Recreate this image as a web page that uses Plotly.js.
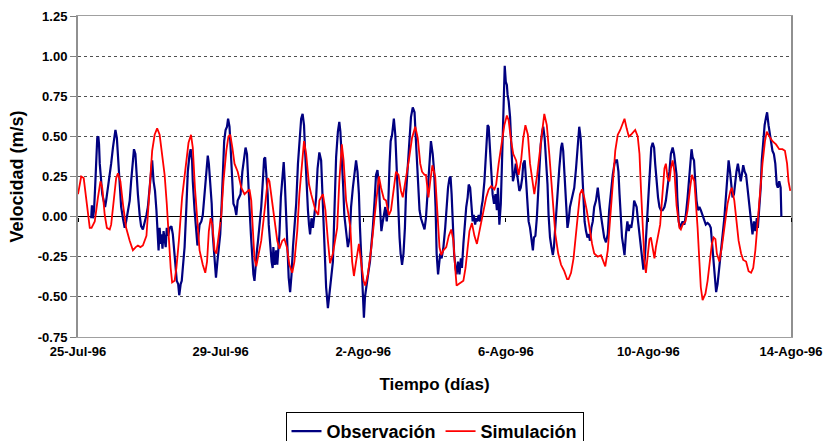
<!DOCTYPE html>
<html>
<head>
<meta charset="utf-8">
<script src="https://cdn.plot.ly/plotly-3.0.1.min.js"></script>
<style>html,body{margin:0;padding:0;background:#fff;}#chart{width:823px;height:441px;}</style>
</head>
<body>
<div id="chart"></div>
<script>
// Time in days since 25-Jul-1996 00:00
const obsDays = [0.37,0.39,0.42,0.45,0.48,0.51,0.54,0.57,0.59,0.61,0.64,0.68,0.72,0.76,0.79,0.84,0.89,0.93,0.98,1.03,1.05,1.09,1.13,1.17,1.21,1.26,1.31,1.35,1.40,1.45,1.49,1.54,1.57,1.61,1.63,1.68,1.73,1.77,1.82,1.87,1.92,1.96,2.01,2.06,2.08,2.12,2.16,2.20,2.23,2.26,2.29,2.32,2.34,2.37,2.40,2.43,2.46,2.49,2.53,2.57,2.62,2.66,2.70,2.74,2.77,2.81,2.84,2.88,2.91,2.94,2.99,3.04,3.08,3.13,3.16,3.20,3.22,3.27,3.32,3.35,3.41,3.46,3.50,3.55,3.60,3.64,3.67,3.71,3.75,3.78,3.83,3.87,3.91,3.95,3.99,4.03,4.06,4.10,4.14,4.18,4.21,4.25,4.29,4.33,4.36,4.40,4.44,4.48,4.51,4.56,4.61,4.65,4.70,4.74,4.77,4.81,4.85,4.89,4.92,4.95,4.98,5.02,5.05,5.09,5.14,5.19,5.22,5.25,5.28,5.32,5.35,5.39,5.43,5.46,5.48,5.52,5.56,5.59,5.62,5.65,5.69,5.73,5.77,5.80,5.84,5.88,5.91,5.95,5.99,6.03,6.07,6.12,6.17,6.21,6.26,6.30,6.34,6.37,6.41,6.45,6.48,6.51,6.55,6.59,6.63,6.68,6.72,6.77,6.82,6.87,6.91,6.96,7.01,7.05,7.10,7.15,7.19,7.24,7.29,7.33,7.36,7.40,7.44,7.47,7.52,7.57,7.62,7.66,7.71,7.76,7.80,7.84,7.88,7.91,7.95,7.99,8.02,8.05,8.10,8.15,8.19,8.23,8.27,8.32,8.36,8.40,8.44,8.47,8.51,8.55,8.59,8.62,8.66,8.70,8.74,8.77,8.81,8.86,8.90,8.93,8.97,9.02,9.05,9.09,9.13,9.17,9.20,9.25,9.30,9.34,9.39,9.44,9.48,9.53,9.58,9.62,9.67,9.72,9.76,9.81,9.86,9.90,9.95,9.99,10.03,10.06,10.10,10.12,10.16,10.20,10.25,10.30,10.34,10.38,10.42,10.45,10.48,10.51,10.55,10.59,10.62,10.66,10.70,10.74,10.77,10.81,10.85,10.89,10.93,10.96,11.00,11.04,11.07,11.10,11.14,11.17,11.20,11.24,11.28,11.32,11.35,11.40,11.45,11.49,11.52,11.56,11.60,11.63,11.67,11.71,11.75,11.78,11.82,11.86,11.90,11.92,11.95,11.97,12.00,12.03,12.05,12.08,12.12,12.15,12.18,12.20,12.24,12.28,12.32,12.35,12.38,12.42,12.46,12.49,12.53,12.57,12.61,12.64,12.68,12.72,12.76,12.79,12.83,12.87,12.91,12.94,12.98,13.02,13.05,13.09,13.13,13.17,13.20,13.24,13.28,13.32,13.35,13.39,13.46,13.50,13.55,13.58,13.61,13.65,13.69,13.73,13.76,13.80,13.84,13.88,13.92,13.97,14.02,14.06,14.10,14.14,14.18,14.21,14.25,14.29,14.33,14.36,14.40,14.44,14.48,14.53,14.58,14.61,14.64,14.68,14.72,14.76,14.81,14.86,14.90,14.95,15.00,15.05,15.09,15.12,15.16,15.19,15.22,15.26,15.30,15.33,15.37,15.41,15.45,15.48,15.52,15.56,15.60,15.63,15.67,15.71,15.75,15.78,15.82,15.86,15.90,15.93,15.97,16.01,16.05,16.08,16.12,16.16,16.19,16.23,16.27,16.31,16.35,16.40,16.45,16.49,16.54,16.59,16.63,16.68,16.72,16.76,16.79,16.81,16.85,16.89,16.92,16.96,17.01,17.05,17.10,17.15,17.18,17.21,17.24,17.28,17.32,17.35,17.39,17.43,17.47,17.52,17.57,17.61,17.66,17.71,17.75,17.80,17.84,17.88,17.90,17.94,17.99,18.04,18.08,18.13,18.18,18.22,18.25,18.29,18.32,18.36,18.40,18.44,18.47,18.51,18.55,18.59,18.62,18.66,18.70,18.74,18.77,18.81,18.85,18.89,18.92,18.96,19.00,19.04,19.07,19.11,19.15,19.18,19.22,19.26,19.30,19.33,19.37,19.41,19.45,19.48,19.52,19.56,19.60,19.63,19.67,19.71,19.73];
const obsVel = [-0.01,0.07,-0.01,0.04,0.18,0.39,0.49,0.50,0.45,0.33,0.22,0.14,0.10,0.06,0.10,0.18,0.24,0.33,0.43,0.51,0.54,0.49,0.35,0.14,0.06,-0.01,-0.07,-0.03,0.04,0.10,0.22,0.37,0.42,0.39,0.30,0.14,0.01,-0.06,-0.08,-0.04,0.01,0.06,0.18,0.33,0.35,0.22,0.16,0.04,-0.07,-0.21,-0.07,-0.17,-0.11,-0.20,-0.09,-0.15,-0.19,-0.07,-0.12,-0.07,-0.06,-0.11,-0.23,-0.32,-0.40,-0.42,-0.49,-0.42,-0.40,-0.32,-0.19,0.06,0.28,0.39,0.42,0.35,0.22,0.04,-0.11,-0.18,-0.05,-0.03,0.01,0.14,0.28,0.38,0.33,0.22,0.08,-0.11,-0.28,-0.38,-0.28,-0.19,-0.11,0.08,0.30,0.47,0.54,0.56,0.61,0.56,0.39,0.22,0.08,0.06,0.01,0.10,0.12,0.14,0.28,0.35,0.43,0.39,0.22,0.06,-0.11,-0.26,-0.36,-0.40,-0.30,-0.21,-0.15,-0.07,0.06,0.24,0.36,0.37,0.28,0.14,-0.05,-0.19,-0.28,-0.32,-0.19,-0.30,-0.21,-0.30,-0.21,-0.11,0.12,0.26,0.34,0.22,-0.03,-0.23,-0.38,-0.47,-0.36,-0.19,-0.07,0.08,0.33,0.47,0.61,0.64,0.57,0.41,0.18,0.04,-0.05,-0.11,-0.01,-0.07,0.01,0.12,0.30,0.40,0.35,0.08,-0.15,-0.44,-0.57,-0.48,-0.38,-0.28,0.01,0.37,0.53,0.59,0.53,0.39,0.18,0.01,-0.09,-0.19,-0.13,0.06,0.18,0.29,0.35,0.28,0.14,-0.07,-0.30,-0.52,-0.63,-0.50,-0.40,-0.34,-0.28,-0.19,-0.07,0.10,0.26,0.29,0.20,0.06,-0.09,-0.03,0.01,0.06,-0.03,0.06,0.33,0.47,0.51,0.61,0.51,0.33,0.08,-0.13,-0.23,-0.30,-0.23,-0.07,0.14,0.33,0.47,0.62,0.68,0.65,0.47,0.22,0.04,-0.01,-0.05,-0.08,-0.01,0.18,0.33,0.47,0.39,0.28,0.06,-0.23,-0.36,-0.30,-0.23,-0.26,-0.19,-0.07,0.06,0.18,0.24,0.25,0.14,-0.07,-0.23,-0.32,-0.36,-0.28,-0.36,-0.26,-0.32,-0.17,-0.03,0.06,0.12,0.20,0.18,0.08,-0.03,0.01,-0.05,-0.01,-0.03,0.01,-0.03,0.06,0.10,0.22,0.45,0.57,0.56,0.43,0.28,0.14,0.08,0.14,0.04,0.18,-0.05,0.08,0.39,0.60,0.80,0.94,0.84,0.82,0.76,0.72,0.62,0.43,0.28,0.22,0.26,0.33,0.26,0.20,0.16,0.18,0.24,0.33,0.35,0.22,0.08,-0.03,-0.07,-0.13,-0.21,-0.13,-0.12,-0.01,0.14,0.33,0.45,0.53,0.56,0.49,0.35,0.20,0.01,-0.13,-0.19,-0.24,-0.19,-0.05,0.14,0.30,0.43,0.46,0.41,0.22,0.04,-0.07,-0.03,0.06,0.10,0.14,0.18,0.30,0.47,0.56,0.49,0.33,0.14,-0.03,-0.09,-0.13,-0.11,-0.15,-0.07,-0.03,0.06,0.10,0.18,0.10,0.06,-0.01,-0.07,-0.13,-0.16,-0.11,0.04,0.16,0.26,0.33,0.35,0.35,0.28,0.14,-0.01,-0.13,-0.19,-0.24,-0.11,-0.03,-0.09,-0.05,-0.07,-0.01,0.10,0.08,0.06,-0.03,-0.11,-0.19,-0.28,-0.33,-0.26,-0.15,0.04,0.20,0.35,0.43,0.46,0.43,0.33,0.22,0.12,0.06,0.04,0.04,0.06,0.10,0.18,0.28,0.39,0.43,0.39,0.33,0.26,0.12,-0.03,-0.07,-0.05,-0.03,-0.05,0.01,0.12,0.28,0.39,0.42,0.37,0.35,0.20,0.10,0.04,0.06,0.04,0.01,-0.03,-0.05,-0.04,-0.05,-0.07,-0.19,-0.32,-0.42,-0.47,-0.42,-0.32,-0.23,-0.11,-0.01,0.14,0.28,0.35,0.28,0.22,0.12,0.14,0.24,0.28,0.33,0.28,0.22,0.26,0.32,0.28,0.26,0.20,0.10,0.01,-0.05,-0.11,-0.03,-0.09,-0.01,-0.07,0.04,0.18,0.35,0.49,0.57,0.62,0.65,0.57,0.51,0.45,0.41,0.39,0.33,0.20,0.18,0.22,0.18,0.00];

const simDays = [0.00,0.05,0.09,0.16,0.23,0.33,0.38,0.47,0.56,0.63,0.68,0.75,0.81,0.89,0.93,1.00,1.07,1.12,1.19,1.26,1.35,1.45,1.54,1.62,1.68,1.75,1.82,1.92,2.01,2.08,2.15,2.22,2.29,2.36,2.43,2.49,2.55,2.60,2.64,2.71,2.76,2.83,2.92,3.02,3.10,3.17,3.22,3.28,3.32,3.41,3.50,3.57,3.62,3.67,3.72,3.77,3.83,3.88,3.94,4.02,4.08,4.16,4.22,4.27,4.33,4.39,4.48,4.58,4.67,4.77,4.81,4.86,4.91,4.95,5.00,5.07,5.14,5.21,5.28,5.33,5.37,5.45,5.52,5.59,5.65,5.73,5.79,5.86,5.93,6.01,6.07,6.15,6.21,6.28,6.34,6.40,6.48,6.54,6.61,6.66,6.74,6.77,6.87,6.94,7.01,7.07,7.15,7.21,7.27,7.33,7.40,7.45,7.52,7.59,7.64,7.69,7.74,7.80,7.88,7.94,8.01,8.06,8.13,8.22,8.32,8.39,8.44,8.50,8.58,8.64,8.72,8.78,8.85,8.92,8.99,9.06,9.11,9.19,9.28,9.37,9.46,9.53,9.60,9.65,9.72,9.76,9.83,9.88,9.94,10.02,10.09,10.14,10.19,10.25,10.33,10.40,10.47,10.53,10.58,10.62,10.68,10.75,10.81,10.87,10.93,10.98,11.05,11.12,11.19,11.26,11.35,11.45,11.52,11.59,11.68,11.73,11.80,11.88,11.96,12.03,12.08,12.15,12.21,12.29,12.36,12.43,12.49,12.55,12.62,12.68,12.76,12.80,12.88,12.94,13.02,13.08,13.15,13.22,13.28,13.34,13.39,13.47,13.55,13.64,13.72,13.76,13.83,13.90,13.95,14.02,14.08,14.14,14.20,14.27,14.34,14.42,14.48,14.58,14.67,14.74,14.79,14.86,14.92,15.00,15.07,15.14,15.21,15.28,15.33,15.39,15.45,15.51,15.58,15.63,15.70,15.75,15.79,15.84,15.89,15.93,15.98,16.03,16.07,16.12,16.17,16.21,16.26,16.33,16.38,16.45,16.49,16.54,16.59,16.63,16.68,16.73,16.79,16.87,16.91,16.96,17.04,17.10,17.17,17.22,17.29,17.33,17.38,17.43,17.47,17.52,17.60,17.66,17.73,17.78,17.83,17.88,17.92,17.99,18.06,18.13,18.22,18.30,18.34,18.41,18.47,18.53,18.60,18.66,18.74,18.81,18.88,18.94,19.00,19.06,19.13,19.20,19.27,19.32,19.39,19.48,19.58,19.67,19.76,19.83,19.89,19.93,19.98];
const simVel = [0.14,0.21,0.25,0.24,0.10,-0.07,-0.07,-0.03,0.12,0.22,0.18,0.01,-0.07,-0.08,-0.05,0.10,0.24,0.27,0.22,0.08,-0.07,-0.15,-0.21,-0.19,-0.18,-0.19,-0.18,-0.12,0.18,0.41,0.51,0.55,0.51,0.39,0.26,0.08,-0.15,-0.32,-0.41,-0.40,-0.32,-0.15,0.12,0.33,0.46,0.51,0.43,0.18,0.04,-0.21,-0.30,-0.35,-0.28,-0.09,-0.01,-0.05,-0.21,-0.23,-0.13,0.01,0.22,0.41,0.50,0.51,0.43,0.33,0.28,0.18,0.14,0.16,0.17,0.10,-0.11,-0.26,-0.31,-0.23,-0.15,-0.01,0.14,0.24,0.22,0.08,-0.03,-0.15,-0.20,-0.15,-0.14,-0.19,-0.30,-0.35,-0.28,-0.09,0.14,0.35,0.47,0.39,0.20,0.14,0.08,0.04,0.01,0.10,0.14,0.04,-0.15,-0.29,-0.23,-0.15,-0.07,0.22,0.45,0.35,0.10,0.01,-0.07,-0.28,-0.37,-0.28,-0.17,-0.28,-0.40,-0.43,-0.36,-0.21,0.01,0.18,0.25,0.18,0.11,0.10,0.01,0.04,0.18,0.28,0.26,0.16,0.12,0.22,0.35,0.49,0.56,0.49,0.33,0.28,0.26,0.26,0.12,0.22,0.32,0.25,0.01,-0.19,-0.24,-0.21,-0.19,-0.12,-0.08,-0.15,-0.32,-0.43,-0.42,-0.41,-0.40,-0.32,-0.19,-0.09,-0.04,-0.12,-0.17,-0.09,-0.01,0.12,0.17,0.19,0.17,0.20,0.33,0.45,0.57,0.63,0.60,0.47,0.39,0.35,0.26,0.35,0.49,0.57,0.51,0.33,0.18,0.14,0.26,0.39,0.53,0.64,0.57,0.39,0.22,0.04,-0.11,-0.23,-0.30,-0.34,-0.39,-0.39,-0.35,-0.26,-0.15,0.01,0.14,0.17,0.12,0.04,-0.07,-0.17,-0.23,-0.25,-0.24,-0.29,-0.31,-0.21,-0.01,0.20,0.41,0.51,0.54,0.59,0.61,0.55,0.50,0.51,0.53,0.54,0.50,0.39,0.18,-0.09,-0.28,-0.35,-0.23,-0.14,-0.13,-0.19,-0.26,-0.19,-0.12,-0.05,0.10,0.30,0.33,0.24,0.22,0.30,0.35,0.28,0.07,-0.07,-0.08,-0.05,-0.03,0.04,0.18,0.26,0.22,0.10,-0.07,-0.28,-0.44,-0.52,-0.48,-0.40,-0.28,-0.17,-0.13,-0.14,-0.23,-0.28,-0.19,-0.07,0.08,0.16,0.18,0.10,-0.01,-0.15,-0.23,-0.27,-0.28,-0.34,-0.35,-0.32,-0.21,-0.03,0.14,0.33,0.47,0.53,0.50,0.47,0.45,0.42,0.42,0.41,0.33,0.22,0.16];

const tickDays = [0, 4, 8, 12, 16, 20];
const xTickText = ['25-Jul-96', '29-Jul-96', '2-Ago-96', '6-Ago-96', '10-Ago-96', '14-Ago-96'];
const yTickVals = [-0.75, -0.5, -0.25, 0, 0.25, 0.5, 0.75, 1.0, 1.25];
const yTickText = ['-0.75', '-0.50', '-0.25', '0.00', '0.25', '0.50', '0.75', '1.00', '1.25'];

const T0 = Date.UTC(1996, 6, 25);
const DAY = 86400000;
const toMs = d => T0 + d * DAY;
const xRange = [toMs(0), toMs(20)];
const tickMs = tickDays.map(toMs);

const FONT = 'Liberation Sans, Arial, Helvetica, sans-serif';

const traces = [
  { x: obsDays.map(toMs), y: obsVel, type: 'scatter', mode: 'lines', name: 'Observación',
    line: { color: '#000080', width: 2.2 }, xaxis: 'x', yaxis: 'y' },
  { x: simDays.map(toMs), y: simVel, type: 'scatter', mode: 'lines', name: 'Simulación',
    line: { color: '#FF0000', width: 1.8 }, xaxis: 'x2', yaxis: 'y' }
];

const layout = {
  width: 823, height: 441,
  margin: { l: 78, r: 32, t: 16, b: 104 },
  paper_bgcolor: '#ffffff', plot_bgcolor: '#ffffff',
  font: { family: FONT, color: '#000', size: 13 },
  showlegend: true,
  legend: {
    orientation: 'h', xref: 'paper', x: 0.5, xanchor: 'center',
    yref: 'container', y: 0.066, yanchor: 'top',
    bordercolor: '#000', borderwidth: 1, bgcolor: '#fff',
    font: { family: FONT, size: 18, weight: 'bold', color: '#000' },
    itemwidth: 30
  },
  xaxis: {
    type: 'date', range: xRange, tickvals: tickMs, ticktext: xTickText,
    ticks: '', showgrid: false, zeroline: false, automargin: false,
    ticklabeloverflow: 'allow', ticklabelstandoff: 2,
    showline: true, linecolor: '#a0a0a0', linewidth: 1, mirror: true,
    tickfont: { family: FONT, size: 13, weight: 'bold' },
    title: { text: 'Tiempo (días)', standoff: 20, font: { family: FONT, size: 17, weight: 'bold' } }
  },
  xaxis2: {
    type: 'date', range: xRange, overlaying: 'x', anchor: 'free', position: 0.375, side: 'bottom',
    tickvals: tickMs, ticks: 'outside', ticklen: 4, tickcolor: '#000', tickwidth: 1,
    showticklabels: false, showline: false, showgrid: false, zeroline: false
  },
  yaxis: {
    range: [-0.75, 1.25], tickvals: yTickVals, ticktext: yTickText, automargin: 'left',
    ticks: 'outside', ticklen: 6, tickcolor: '#808080', tickwidth: 1,
    showline: true, linecolor: '#909090', linewidth: 2, mirror: true,
    showgrid: true, gridcolor: '#505050', gridwidth: 1, griddash: 'dot',
    zeroline: true, zerolinecolor: '#000', zerolinewidth: 1,
    tickfont: { family: FONT, size: 13, weight: 'bold' },
    title: { text: 'Velocidad (m/s)', standoff: 9, font: { family: FONT, size: 18, weight: 'bold' } }
  }
};

Plotly.newPlot('chart', traces, layout, { displayModeBar: false, staticPlot: true });
</script>
</body>
</html>
